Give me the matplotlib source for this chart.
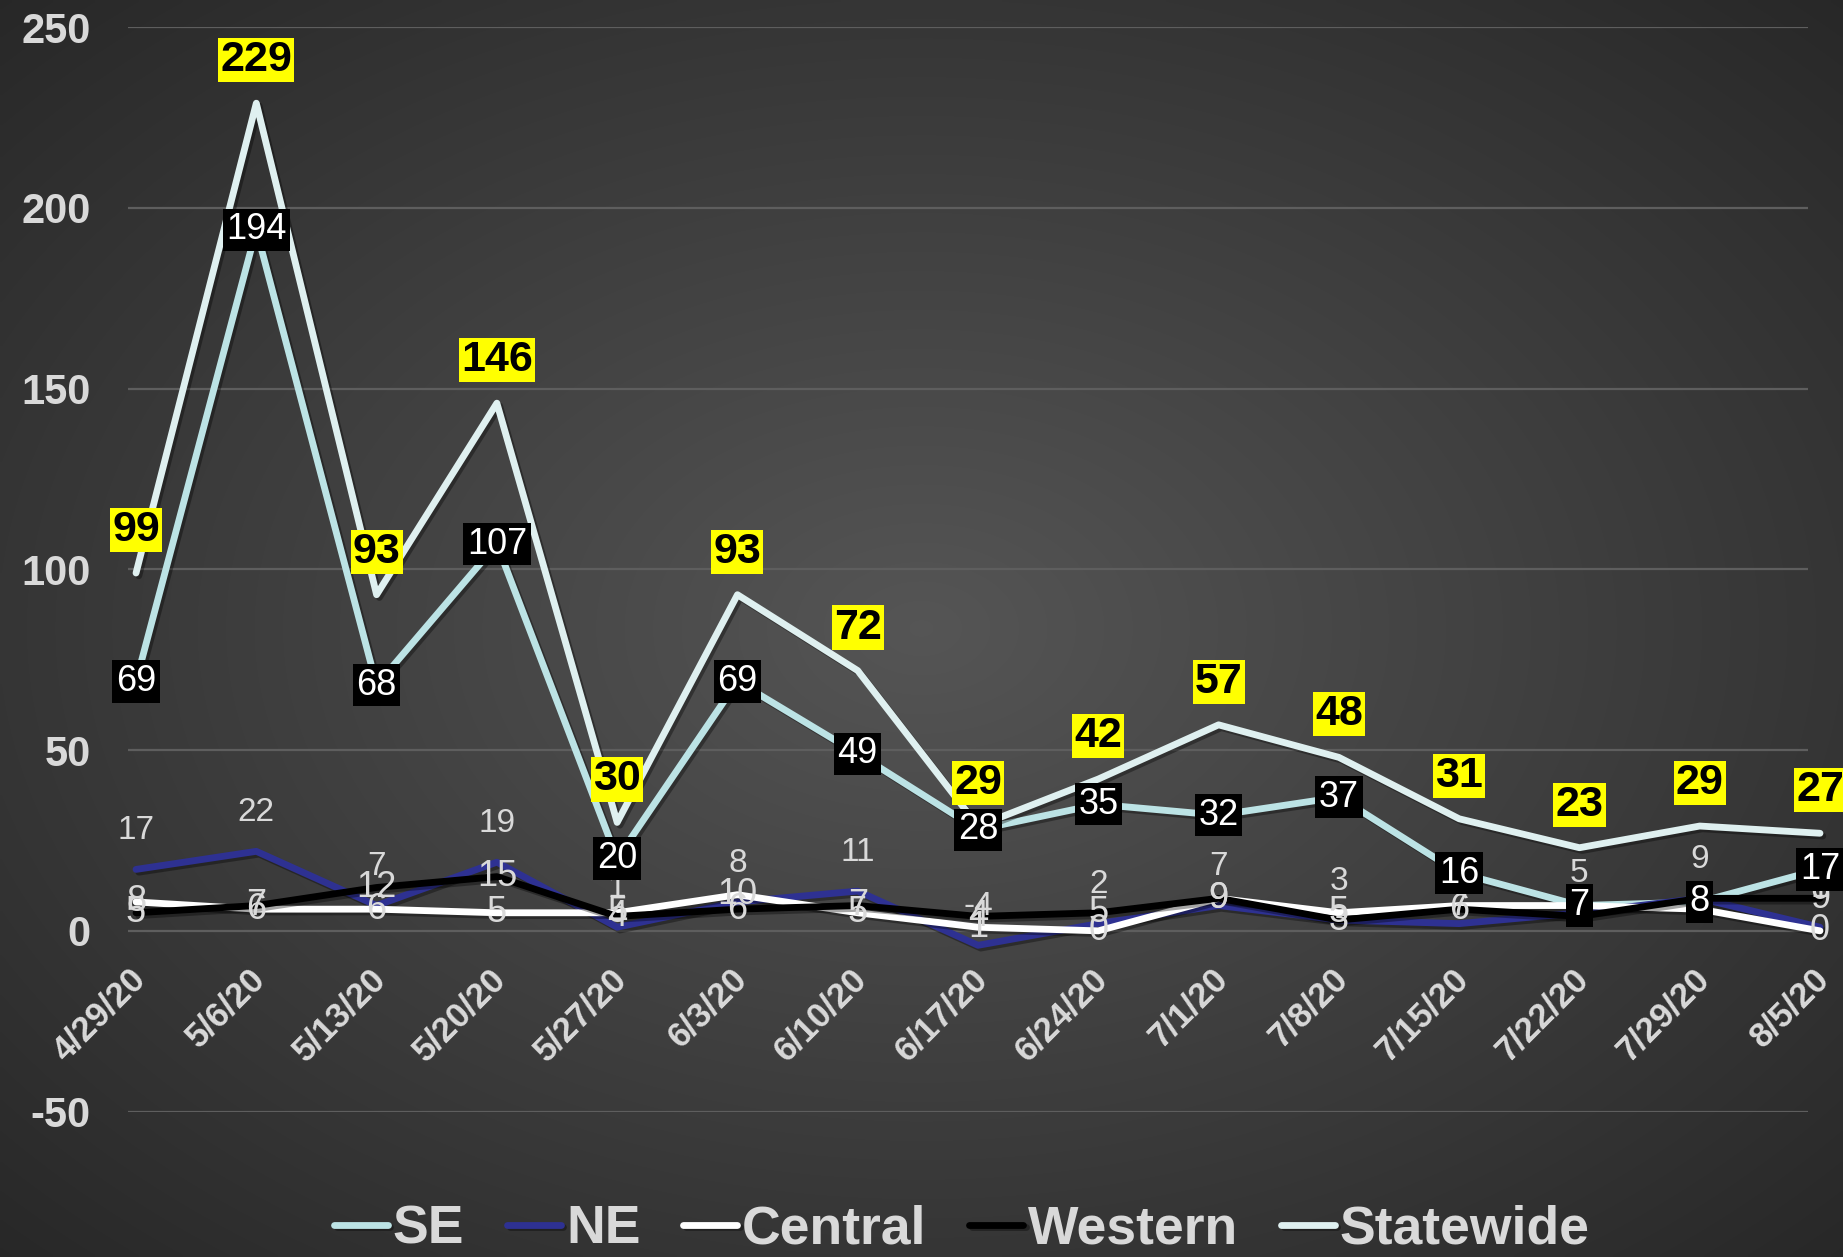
import matplotlib
matplotlib.use('Agg')
import matplotlib.pyplot as plt
import matplotlib.patheffects as pe
import numpy as np

plt.rcParams['font.family'] = ['Liberation Sans', 'DejaVu Sans']
plt.rcParams['axes.unicode_minus'] = False

dates = ['4/29/20', '5/6/20', '5/13/20', '5/20/20', '5/27/20', '6/3/20', '6/10/20',
         '6/17/20', '6/24/20', '7/1/20', '7/8/20', '7/15/20', '7/22/20', '7/29/20', '8/5/20']
se = [69, 194, 68, 107, 20, 69, 49, 28, 35, 32, 37, 16, 7, 8, 17]
ne = [17, 22, 7, 19, 1, 8, 11, -4, 2, 7, 3, 2, 5, 9, 1]
central = [8, 6, 6, 5, 5, 10, 5, 1, 0, 9, 5, 7, 7, 6, 0]
western = [5, 7, 12, 15, 4, 6, 7, 4, 5, 9, 3, 6, 4, 9, 9]
statewide = [99, 229, 93, 146, 30, 93, 72, 29, 42, 57, 48, 31, 23, 29, 27]

grey_txt = '#d9d9d9'

fig = plt.figure(figsize=(18.43, 12.57), dpi=100)

# radial gradient background
bg = fig.add_axes([0, 0, 1, 1], zorder=-10)
yy, xx = np.mgrid[0:1:300j, 0:1:440j]
r = np.sqrt(((xx - 0.5) / 0.75) ** 2 + ((yy - 0.5) / 0.75) ** 2)
g = np.clip(0.335 - 0.19 * r, 0, 1)
bg.imshow(np.dstack([g, g, g]), aspect='auto', extent=[0, 1, 0, 1], interpolation='bilinear')
bg.axis('off')

ax = fig.add_axes([0.0695, 0.1157, 0.9115, 0.8626])
ax.patch.set_alpha(0)
ax.set_xlim(-0.066, 13.9)
ax.set_ylim(-50, 250)
ax.set_yticks(range(-50, 251, 50))
ax.set_xticks([])
ax.grid(axis='y', color='#5e5e5e', lw=1.6)
ax.set_axisbelow(True)
for s in ax.spines.values():
    s.set_visible(False)
ax.tick_params(axis='y', length=0, pad=27, labelsize=30, labelcolor=grey_txt)
for t in ax.get_yticklabels():
    t.set_fontweight('bold')

x = np.arange(len(dates))
shadow = [pe.SimpleLineShadow(offset=(2, -2), alpha=0.35), pe.Normal()]
series = [('SE', se, '#bce3e5'), ('NE', ne, '#2e3192'), ('Central', central, 'white'),
          ('Western', western, 'black'), ('Statewide', statewide, '#dff0f0')]
handles = []
for name, vals, col in series:
    ln, = ax.plot(x, vals, color=col, lw=4.9, label=name, clip_on=False,
                  solid_capstyle='round', path_effects=shadow, zorder=3)
    handles.append(ln)

# x category labels at the zero line
for i, d in enumerate(dates):
    ax.annotate(d, (i, 0), xytext=(3, -31), textcoords='offset points', rotation=45,
                rotation_mode='anchor', ha='right', va='center', fontsize=25,
                fontweight='bold', color=grey_txt, annotation_clip=False)

# data labels
for i in x:
    ax.annotate(str(ne[i]), (i, ne[i]), xytext=(0, 28), textcoords='offset points',
                ha='center', va='center', fontsize=24, color=grey_txt, zorder=5,
                annotation_clip=False)
    ax.annotate(str(central[i]), (i, central[i]), ha='center', va='center',
                fontsize=26, color=grey_txt, zorder=5, annotation_clip=False)
    ax.annotate(str(western[i]), (i, western[i]), ha='center', va='center',
                fontsize=26, color=grey_txt, zorder=5, annotation_clip=False)
    ax.annotate(str(se[i]), (i, se[i]), ha='center', va='center', fontsize=26,
                color='white', zorder=6, annotation_clip=False,
                bbox=dict(boxstyle='square,pad=0.1', fc='black', ec='none'))
    ax.annotate(str(statewide[i]), (i, statewide[i]), xytext=(0, 31),
                textcoords='offset points', ha='center', va='center', fontsize=31,
                fontweight='bold', color='black', zorder=7, annotation_clip=False,
                bbox=dict(boxstyle='square,pad=0.05', fc='#ffff00', ec='none'))

fig.legend(handles=handles, loc='center', bbox_to_anchor=(0.522, 0.022), ncol=5,
           frameon=False, handlelength=1.0, handletextpad=0.1, columnspacing=0.8,
           prop={'size': 38.5, 'weight': 'bold'}, labelcolor=grey_txt)

fig.savefig('out.png', dpi=100)
